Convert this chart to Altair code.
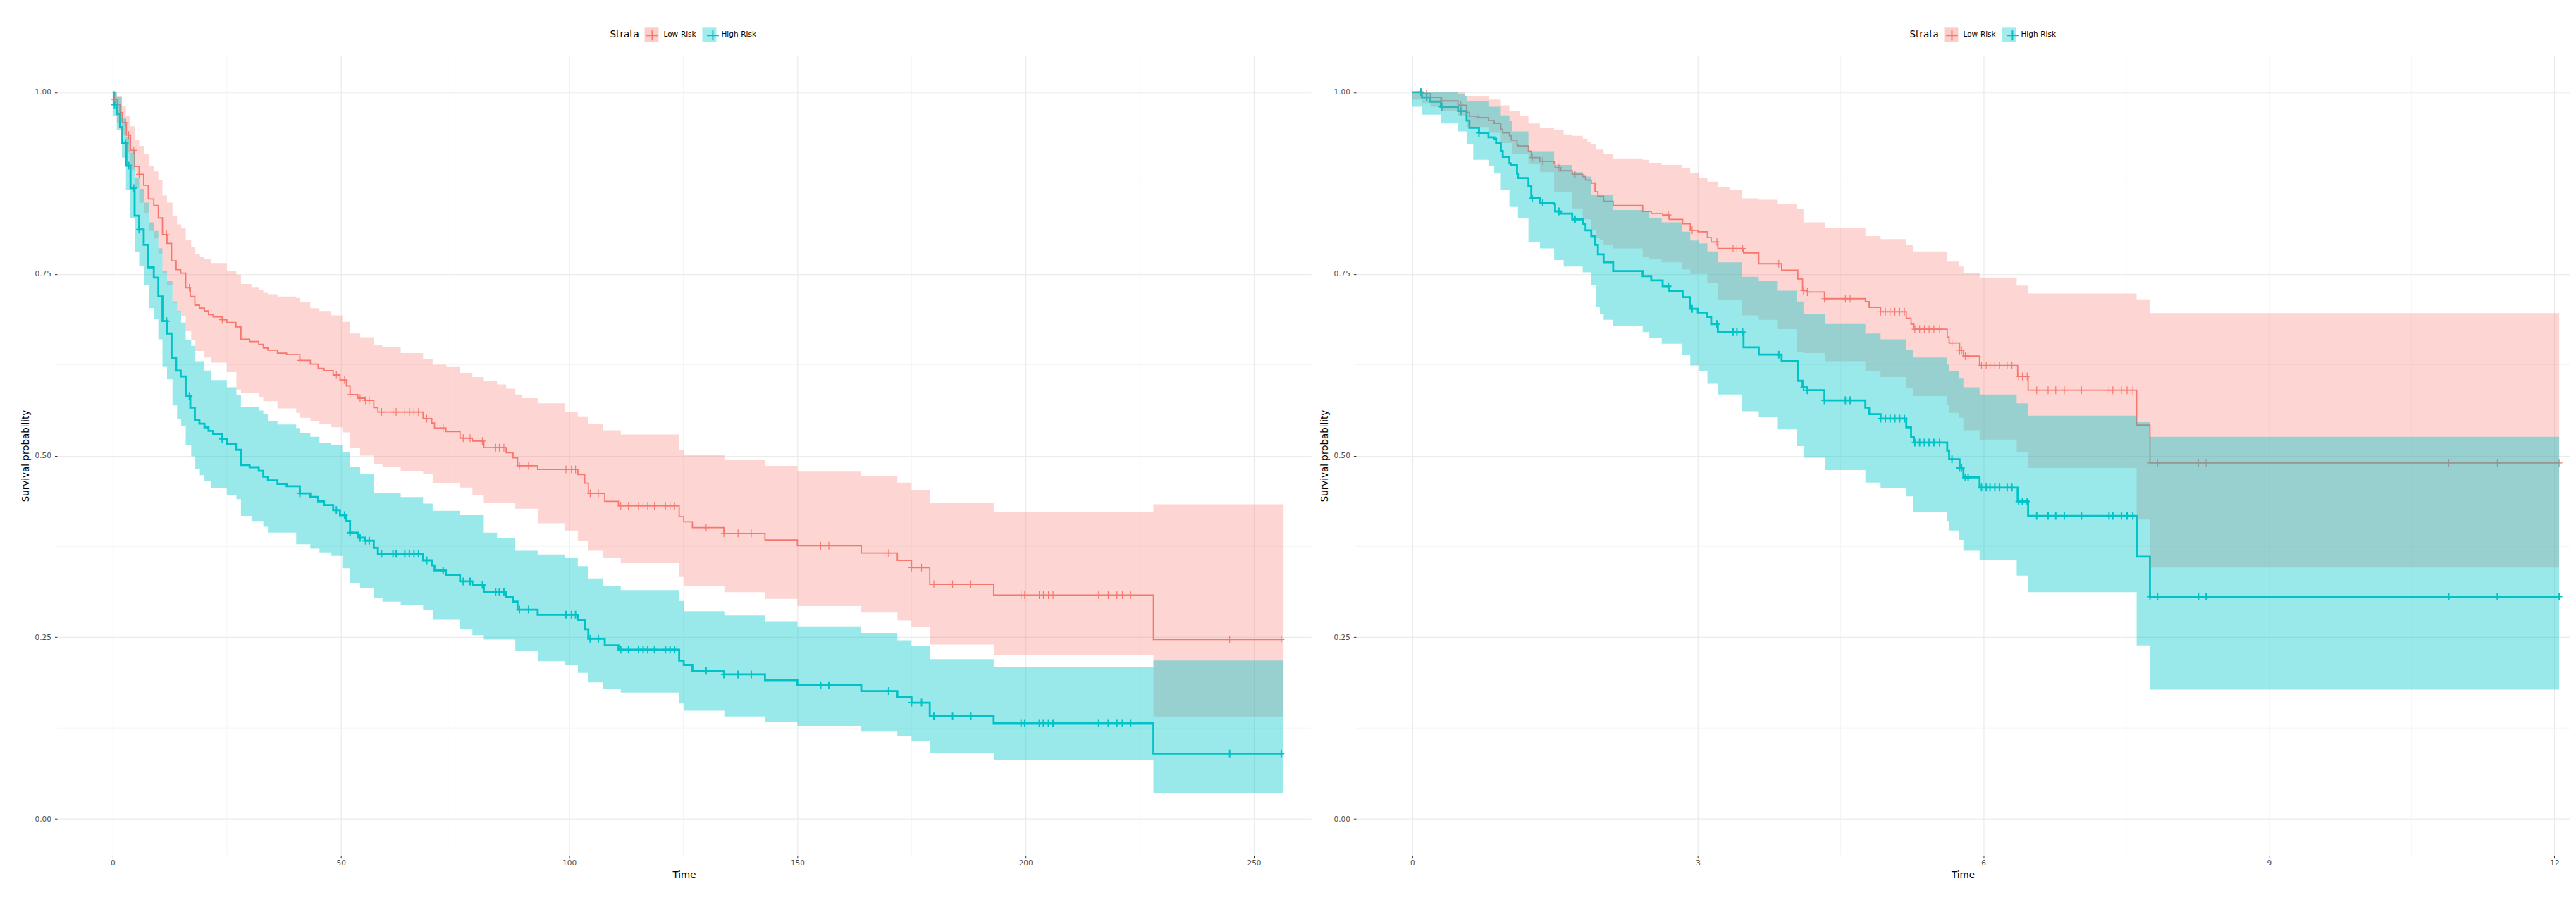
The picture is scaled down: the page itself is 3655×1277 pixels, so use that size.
import altair as alt
import pandas as pd

STRATA = ["Low-Risk", "High-Risk"]
KEYS = ["1 Low-Risk", "2 High-Risk"]
LINE_COLORS = ["#F8766D", "#00BFC4"]
BAND_COLORS = ["#F8766D", "#00C8CE"]
FONT = "DejaVu Sans"

# ---------------- Left panel (time 0 - 256) ----------------
LEFT_STEP_T = [0, 0.3, 1.0, 1.6, 2.1, 3.0, 3.9, 4.8, 5.8, 6.8, 7.8, 9.0, 10.0, 10.9, 11.9, 12.9,
               13.9, 14.9, 16.0, 17.0, 18.0, 19.0, 20.1, 21.0, 22.0, 24.0, 25.0, 27.0, 28.1, 30.0,
               32.0, 33.0, 34.0, 36.1, 38.1, 41.0, 43.3, 45.0, 46.3, 48.3, 49.8, 51.2, 52.0, 53.7,
               55.2, 57.2, 58.1, 68.0, 69.9, 70.5, 73.0, 76.1, 78.8, 81.3, 86.2, 87.7, 88.7, 93.1,
               101.9, 103.4, 104.2, 107.8, 110.8, 124.1, 125.1, 127.0, 133.9, 142.9, 150.0, 164.0,
               171.9, 175.0, 179.0, 193.0, 228.0, 256.5]
LEFT_LOW_S = [1.000, 0.990, 0.983, 0.972, 0.958, 0.941, 0.920, 0.898, 0.887, 0.872, 0.853, 0.844,
              0.827, 0.804, 0.792, 0.768, 0.756, 0.751, 0.731, 0.719, 0.707, 0.703, 0.699, 0.694,
              0.691, 0.687, 0.683, 0.677, 0.660, 0.657, 0.653, 0.648, 0.645, 0.641, 0.639, 0.631,
              0.626, 0.620, 0.617, 0.611, 0.604, 0.596, 0.584, 0.579, 0.576, 0.566, 0.560, 0.551,
              0.545, 0.538, 0.533, 0.524, 0.520, 0.511, 0.504, 0.497, 0.486, 0.481, 0.474, 0.462,
              0.448, 0.437, 0.431, 0.416, 0.409, 0.401, 0.393, 0.384, 0.376, 0.366, 0.356, 0.346,
              0.323, 0.308, 0.247, 0.247]
LEFT_HIGH_S = [1.000, 0.983, 0.970, 0.952, 0.930, 0.899, 0.868, 0.830, 0.811, 0.790, 0.759, 0.745,
               0.719, 0.685, 0.668, 0.634, 0.617, 0.609, 0.582, 0.566, 0.549, 0.544, 0.539, 0.534,
               0.530, 0.523, 0.516, 0.508, 0.487, 0.484, 0.479, 0.471, 0.466, 0.461, 0.458, 0.448,
               0.443, 0.437, 0.432, 0.425, 0.418, 0.410, 0.394, 0.387, 0.383, 0.373, 0.365, 0.356,
               0.349, 0.342, 0.336, 0.327, 0.322, 0.312, 0.306, 0.299, 0.288, 0.281, 0.274, 0.261,
               0.248, 0.239, 0.233, 0.218, 0.212, 0.204, 0.199, 0.191, 0.184, 0.176, 0.168, 0.160,
               0.142, 0.132, 0.090, 0.090]

LEFT_BAND_T = [0, 0.9, 2.0, 2.9, 3.8, 4.8, 5.8, 6.9, 7.9, 9.0, 10.0, 10.9, 11.9, 13.1, 14.1, 15.0,
               16.0, 17.2, 18.1, 19.1, 20.1, 21.5, 25.0, 27.1, 28.1, 30.4, 32.0, 33.0, 34.0, 36.1,
               40.2, 41.0, 43.3, 45.3, 47.9, 50.3, 52.0, 54.2, 57.2, 59.1, 63.1, 68.0, 70.1, 73.1,
               76.1, 78.8, 81.3, 84.2, 86.2, 88.2, 89.6, 93.1, 99.0, 101.9, 104.2, 107.4, 111.3,
               124.1, 125.1, 134.0, 142.9, 150.0, 164.0, 171.9, 175.0, 179.0, 193.0, 228.0, 256.5]
LEFT_LOW_LO = [0.985, 0.958, 0.941, 0.917, 0.893, 0.868, 0.848, 0.834, 0.809, 0.799, 0.778, 0.751,
               0.735, 0.710, 0.698, 0.692, 0.672, 0.659, 0.644, 0.644, 0.635, 0.628, 0.615, 0.591,
               0.586, 0.586, 0.580, 0.575, 0.575, 0.565, 0.559, 0.552, 0.548, 0.544, 0.539, 0.532,
               0.511, 0.500, 0.488, 0.485, 0.479, 0.475, 0.462, 0.462, 0.456, 0.446, 0.435, 0.435,
               0.435, 0.427, 0.427, 0.407, 0.397, 0.383, 0.369, 0.359, 0.352, 0.334, 0.321, 0.312,
               0.303, 0.293, 0.284, 0.273, 0.264, 0.240, 0.226, 0.141, 0.141]
LEFT_LOW_HI = [1.000, 0.995, 0.981, 0.967, 0.953, 0.935, 0.926, 0.915, 0.898, 0.891, 0.879, 0.858,
               0.848, 0.830, 0.818, 0.813, 0.797, 0.787, 0.777, 0.773, 0.770, 0.765, 0.754, 0.749,
               0.736, 0.732, 0.728, 0.724, 0.722, 0.719, 0.717, 0.711, 0.703, 0.699, 0.693, 0.684,
               0.668, 0.663, 0.652, 0.649, 0.641, 0.633, 0.625, 0.622, 0.614, 0.608, 0.603, 0.598,
               0.592, 0.584, 0.579, 0.572, 0.560, 0.554, 0.544, 0.535, 0.529, 0.508, 0.501, 0.494,
               0.486, 0.478, 0.472, 0.463, 0.453, 0.435, 0.423, 0.433, 0.433]
LEFT_HIGH_LO = [0.967, 0.948, 0.910, 0.865, 0.827, 0.780, 0.761, 0.735, 0.703, 0.688, 0.660, 0.622,
                0.605, 0.569, 0.551, 0.541, 0.515, 0.499, 0.481, 0.473, 0.465, 0.455, 0.446, 0.440,
                0.417, 0.410, 0.410, 0.402, 0.394, 0.394, 0.378, 0.378, 0.372, 0.367, 0.362, 0.345,
                0.325, 0.318, 0.304, 0.299, 0.294, 0.288, 0.274, 0.274, 0.261, 0.253, 0.247, 0.247,
                0.247, 0.231, 0.231, 0.217, 0.212, 0.201, 0.188, 0.179, 0.174, 0.159, 0.149, 0.141,
                0.134, 0.128, 0.121, 0.114, 0.107, 0.091, 0.081, 0.036, 0.036]
LEFT_HIGH_HI = [1.000, 0.993, 0.965, 0.939, 0.917, 0.882, 0.867, 0.848, 0.821, 0.809, 0.785, 0.754,
                0.740, 0.712, 0.699, 0.683, 0.659, 0.651, 0.630, 0.630, 0.617, 0.604, 0.594, 0.583,
                0.567, 0.567, 0.562, 0.557, 0.547, 0.543, 0.538, 0.531, 0.526, 0.518, 0.514, 0.505,
                0.484, 0.475, 0.448, 0.448, 0.443, 0.434, 0.424, 0.424, 0.418, 0.418, 0.394, 0.386,
                0.386, 0.369, 0.369, 0.364, 0.359, 0.348, 0.331, 0.321, 0.315, 0.300, 0.286, 0.280,
                0.272, 0.265, 0.256, 0.246, 0.238, 0.220, 0.209, 0.218, 0.218]
LEFT_CENSOR_T = [0.4, 2.8, 3.5, 4.6, 5.8, 11.8, 16.8, 24.0, 41.0, 49.0, 50.8, 52.0, 54.2, 55.4, 56.2,
                 58.9, 61.4, 62.1, 64.0, 65.0, 66.0, 67.0, 68.8, 72.4, 76.8, 78.3, 81.0, 83.9, 84.7,
                 85.7, 89.1, 91.1, 99.3, 100.5, 101.4, 104.6, 106.4, 111.3, 113.0, 115.2, 116.2,
                 117.2, 118.7, 121.1, 122.1, 123.1, 130.0, 133.9, 137.0, 139.9, 155.1, 156.9, 170.0,
                 175.0, 177.2, 179.9, 184.0, 188.0, 199.0, 199.8, 203.0, 203.9, 205.0, 206.0, 216.0,
                 218.1, 220.0, 221.2, 223.0, 244.7, 256.0]
LEFT_X_TICKS = [0, 50, 100, 150, 200, 250]
LEFT_X_MINOR = [25, 75, 125, 175, 225]

# ---------------- Right panel (time 0 - 12) ----------------
RIGHT_STEP_T = [0, 0.10, 0.19, 0.30, 0.48, 0.57, 0.60, 0.70, 0.80, 0.86, 0.88, 0.93, 0.95, 1.02,
                1.04, 1.10, 1.11, 1.22, 1.25, 1.34, 1.49, 1.50, 1.56, 1.68, 1.79, 1.82, 1.88, 1.92,
                1.95, 2.01, 2.11, 2.42, 2.51, 2.63, 2.70, 2.84, 2.92, 3.00, 3.10, 3.14, 3.21, 3.48,
                3.64, 3.88, 4.05, 4.10, 4.15, 4.33, 4.76, 4.80, 4.92, 5.19, 5.24, 5.27, 5.62, 5.64,
                5.75, 5.79, 5.96, 6.36, 6.47, 7.61, 7.75, 12.05]
RIGHT_LOW_S = [1.000, 0.998, 0.993, 0.988, 0.982, 0.972, 0.967, 0.965, 0.961, 0.957, 0.957, 0.949,
               0.944, 0.940, 0.934, 0.928, 0.926, 0.919, 0.910, 0.905, 0.903, 0.896, 0.892, 0.887,
               0.884, 0.879, 0.875, 0.863, 0.857, 0.850, 0.844, 0.836, 0.833, 0.831, 0.825, 0.819,
               0.810, 0.808, 0.800, 0.794, 0.785, 0.779, 0.764, 0.755, 0.743, 0.727, 0.725, 0.716,
               0.712, 0.704, 0.698, 0.689, 0.681, 0.674, 0.663, 0.655, 0.645, 0.637, 0.624, 0.609,
               0.590, 0.542, 0.490, 0.490]
RIGHT_HIGH_S = [1.000, 0.993, 0.987, 0.980, 0.974, 0.961, 0.951, 0.944, 0.938, 0.936, 0.930, 0.919,
                0.911, 0.902, 0.900, 0.888, 0.882, 0.871, 0.854, 0.848, 0.846, 0.836, 0.833, 0.825,
                0.819, 0.810, 0.802, 0.790, 0.777, 0.766, 0.754, 0.747, 0.741, 0.733, 0.726, 0.718,
                0.702, 0.697, 0.691, 0.681, 0.670, 0.649, 0.639, 0.630, 0.603, 0.594, 0.590, 0.576,
                0.566, 0.557, 0.551, 0.539, 0.526, 0.518, 0.507, 0.495, 0.483, 0.470, 0.456, 0.437,
                0.417, 0.361, 0.306, 0.306]

RIGHT_BAND_T = [0, 0.10, 0.19, 0.30, 0.48, 0.55, 0.57, 0.64, 0.80, 0.86, 0.93, 1.02, 1.05, 1.11,
                1.13, 1.22, 1.34, 1.49, 1.59, 1.68, 1.79, 1.84, 1.88, 1.93, 1.97, 2.01, 2.11, 2.42,
                2.49, 2.62, 2.83, 2.92, 3.01, 3.10, 3.21, 3.34, 3.46, 3.64, 3.84, 4.04, 4.11, 4.34,
                4.76, 4.92, 5.19, 5.26, 5.62, 5.64, 5.74, 5.79, 5.96, 6.35, 6.47, 7.61, 7.75, 12.05]
RIGHT_LOW_HI = [1.000, 1.000, 1.000, 1.000, 1.000, 0.995, 0.995, 0.995, 0.990, 0.990, 0.982, 0.974,
                0.974, 0.974, 0.967, 0.957, 0.951, 0.948, 0.942, 0.940, 0.936, 0.932, 0.928, 0.921,
                0.921, 0.915, 0.909, 0.907, 0.903, 0.900, 0.896, 0.889, 0.882, 0.877, 0.870, 0.866,
                0.854, 0.852, 0.846, 0.839, 0.821, 0.813, 0.802, 0.798, 0.790, 0.781, 0.767, 0.767,
                0.760, 0.751, 0.745, 0.734, 0.723, 0.715, 0.696, 0.696]
RIGHT_LOW_LO = [0.990, 0.985, 0.980, 0.974, 0.967, 0.967, 0.952, 0.952, 0.944, 0.944, 0.930, 0.930,
                0.915, 0.915, 0.915, 0.902, 0.890, 0.863, 0.863, 0.840, 0.825, 0.825, 0.810, 0.800,
                0.797, 0.790, 0.785, 0.773, 0.771, 0.766, 0.756, 0.750, 0.750, 0.737, 0.714, 0.714,
                0.693, 0.687, 0.674, 0.643, 0.641, 0.630, 0.616, 0.608, 0.593, 0.582, 0.570, 0.559,
                0.552, 0.535, 0.522, 0.505, 0.483, 0.412, 0.346, 0.346]
RIGHT_HIGH_HI = [1.000, 1.000, 1.000, 1.000, 0.997, 0.995, 0.988, 0.988, 0.980, 0.980, 0.968, 0.960,
                 0.946, 0.946, 0.946, 0.919, 0.919, 0.900, 0.900, 0.890, 0.884, 0.884, 0.859, 0.859,
                 0.859, 0.859, 0.838, 0.836, 0.827, 0.821, 0.808, 0.796, 0.792, 0.781, 0.766, 0.766,
                 0.746, 0.741, 0.727, 0.712, 0.695, 0.681, 0.668, 0.660, 0.645, 0.635, 0.625, 0.616,
                 0.606, 0.594, 0.584, 0.572, 0.555, 0.546, 0.526, 0.526]
RIGHT_HIGH_LO = [0.980, 0.969, 0.969, 0.957, 0.946, 0.946, 0.928, 0.907, 0.898, 0.888, 0.865, 0.842,
                 0.842, 0.827, 0.827, 0.794, 0.785, 0.769, 0.760, 0.760, 0.752, 0.752, 0.735, 0.704,
                 0.695, 0.687, 0.679, 0.670, 0.662, 0.654, 0.639, 0.624, 0.616, 0.599, 0.584, 0.584,
                 0.561, 0.553, 0.536, 0.513, 0.497, 0.480, 0.463, 0.455, 0.444, 0.423, 0.410, 0.397,
                 0.384, 0.369, 0.356, 0.335, 0.312, 0.239, 0.178, 0.178]
RIGHT_CENSOR_T = [0.09, 0.15, 0.31, 0.51, 0.70, 1.26, 1.37, 1.54, 1.71, 2.69, 2.94, 3.20, 3.37, 3.41,
                  3.47, 3.85, 4.11, 4.15, 4.33, 4.55, 4.60, 4.92, 4.97, 5.02, 5.07, 5.12, 5.17, 5.28,
                  5.33, 5.38, 5.43, 5.48, 5.54, 5.67, 5.75, 5.77, 5.81, 5.84, 5.98, 6.03, 6.07, 6.12,
                  6.17, 6.25, 6.30, 6.37, 6.41, 6.46, 6.56, 6.68, 6.76, 6.85, 7.03, 7.32, 7.36, 7.45,
                  7.51, 7.57, 7.75, 7.83, 8.26, 8.34, 10.89, 11.40, 12.05]
RIGHT_X_TICKS = [0, 3, 6, 9, 12]
RIGHT_X_MINOR = [1.5, 4.5, 7.5, 10.5]

Y_TICKS = [0, 0.25, 0.5, 0.75, 1.0]
Y_MINOR = [0.125, 0.375, 0.625, 0.875]


def step_at(times, vals, t):
    v = vals[0]
    for tt, vv in zip(times, vals):
        if tt <= t + 1e-9:
            v = vv
        else:
            break
    return v


def legend(legend_x, cross):
    common = dict(
        orient="none", legendX=legend_x, legendY=-40, direction="horizontal",
        title="Strata", titleOrient="left", titleFont=FONT, titleFontSize=13.5,
        titleFontWeight="normal", titlePadding=7, titleAnchor="middle", titleBaseline="middle",
        labelFont=FONT, labelFontSize=10.5, labelOffset=7, columnPadding=8,
        symbolSize=400,
    )
    if cross:
        return alt.Legend(symbolType="M-0.85,0H0.85M0,-0.7V0.7", symbolStrokeWidth=2,
                          titleColor="transparent", labelColor="transparent",
                          labelExpr="substring(datum.label, 2)", **common)
    return alt.Legend(symbolType="square", symbolOpacity=0.36, symbolStrokeWidth=0,
                      titleColor="#000000", labelColor="#000000", **common)


def make_panel(step_t, low_s, high_s, band_t, low_lo, low_hi, high_lo, high_hi, cens_t,
               x_domain, x_ticks, x_minor, width, legend_x):
    xs = alt.Scale(domain=x_domain, nice=False, zero=False)
    ys = alt.Scale(domain=[-0.05, 1.05], nice=False, zero=False)
    fill_scale = alt.Scale(domain=STRATA, range=BAND_COLORS)
    stroke_scale = alt.Scale(range=LINE_COLORS)

    x_axis = alt.Axis(values=x_ticks, format="d", title="Time", grid=True, gridColor="#EBEBEB",
                      gridWidth=1.2, domain=False, ticks=True, tickSize=4, tickColor="#333333",
                      tickWidth=1, labelFont=FONT, labelFontSize=10.5, labelColor="#4D4D4D",
                      labelPadding=2, titleFont=FONT, titleFontSize=13.5,
                      titleFontWeight="normal", titleColor="#000000", titlePadding=4)
    y_axis = alt.Axis(values=Y_TICKS, format=".2f", title="Survival probability", grid=True,
                      gridColor="#EBEBEB", gridWidth=1.2, domain=False, ticks=True, tickSize=3.5,
                      tickColor="#333333", tickWidth=1, labelFont=FONT, labelFontSize=10.5,
                      labelColor="#4D4D4D", labelPadding=5, titleFont=FONT, titleFontSize=13.5,
                      titleFontWeight="normal", titleColor="#000000", titlePadding=6)

    X = lambda f: alt.X(f, type="quantitative", scale=xs, axis=x_axis)
    Y = lambda f: alt.Y(f, type="quantitative", scale=ys, axis=y_axis)

    minor_x = alt.Chart(pd.DataFrame({"t": x_minor})).mark_rule(
        color="#F2F2F2", strokeWidth=0.8).encode(x=X("t"))
    minor_y = alt.Chart(pd.DataFrame({"s": Y_MINOR})).mark_rule(
        color="#F2F2F2", strokeWidth=0.8).encode(y=Y("s"))

    layers = [minor_x, minor_y]
    widths = [1.8, 2.8]
    cross_w = [1.2, 2.0]
    surv = [low_s, high_s]
    for i in range(2):
        df = pd.DataFrame({"t": step_t, "s": surv[i], "key": KEYS[i]})
        layers.append(alt.Chart(df).mark_line(interpolate="step-after", strokeWidth=widths[i])
                      .encode(x=X("t"), y=Y("s"),
                              stroke=alt.Stroke("key:N", scale=stroke_scale,
                                                legend=legend(legend_x, True))))
    for i in range(2):
        cs = [step_at(step_t, surv[i], t) for t in cens_t]
        df = pd.DataFrame({"t": cens_t, "s": cs, "key": KEYS[i]})
        layers.append(alt.Chart(df).mark_point(shape="M-0.8,0H0.8M0,-1V1", filled=False,
                                               size=121, strokeWidth=cross_w[i], opacity=1)
                      .encode(x=X("t"), y=Y("s"),
                              stroke=alt.Stroke("key:N", scale=stroke_scale,
                                                legend=legend(legend_x, True))))
    bands = [(low_lo, low_hi, 0.3), (high_lo, high_hi, 0.4)]
    for i in range(2):
        lo, hi, op = bands[i]
        df = pd.DataFrame({"t": band_t, "lo": lo, "hi": hi, "strata": STRATA[i]})
        layers.append(alt.Chart(df).mark_area(interpolate="step-after", opacity=op)
                      .encode(x=X("t"), y=Y("lo"), y2="hi",
                              fill=alt.Fill("strata:N", scale=fill_scale,
                                            legend=legend(legend_x, False))))
    return alt.layer(*layers).properties(width=width, height=1135)


left = make_panel(LEFT_STEP_T, LEFT_LOW_S, LEFT_HIGH_S, LEFT_BAND_T, LEFT_LOW_LO, LEFT_LOW_HI,
                  LEFT_HIGH_LO, LEFT_HIGH_HI, LEFT_CENSOR_T, [-12.19, 262.5], LEFT_X_TICKS,
                  LEFT_X_MINOR, 1780, 785)
right = make_panel(RIGHT_STEP_T, RIGHT_LOW_S, RIGHT_HIGH_S, RIGHT_BAND_T, RIGHT_LOW_LO,
                   RIGHT_LOW_HI, RIGHT_HIGH_LO, RIGHT_HIGH_HI, RIGHT_CENSOR_T, [-0.592, 12.16],
                   RIGHT_X_TICKS, RIGHT_X_MINOR, 1723, 786)

chart = (alt.hconcat(left, right, spacing=11)
         .resolve_scale(x="independent", y="independent", fill="independent",
                        stroke="independent")
         .resolve_legend(fill="independent", stroke="independent")
         .properties(padding={"left": 21, "top": 31, "right": 0, "bottom": 0},
                     background="#FFFFFF")
         .configure_view(stroke=None))

chart.save("out.html", embed_options={"renderer": "svg", "actions": False})
